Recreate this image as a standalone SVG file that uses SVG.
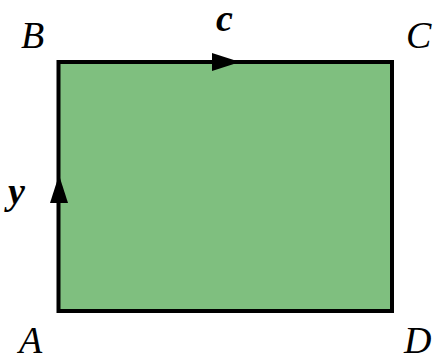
<svg xmlns="http://www.w3.org/2000/svg" xmlns:xlink="http://www.w3.org/1999/xlink" width="436" height="359" viewBox="0 0 436 359">
<style>
.lbl{font-family:"Liberation Serif","Times New Roman",serif;font-style:italic;font-size:38px;fill:#000}
.bold{font-weight:bold}
.edge{fill:#7fbf7f;stroke:#000;stroke-width:4;stroke-linejoin:miter}
</style>
<defs>
<path id="head" d="M0,0 L-28,-9 L-28,9 Z" fill="#000"/>
</defs>
<rect width="436" height="359" fill="#fff"/>
<g id="region">
<rect class="edge" x="58.5" y="62" width="333.5" height="249"/>
</g>
<g id="connectors">
<use xlink:href="#head" transform="translate(240,62)"/>
<use xlink:href="#head" transform="translate(59,175) rotate(-90)"/>
</g>
<g id="labels">
<text class="lbl" x="21" y="48">B</text>
<text class="lbl" x="406" y="48">C</text>
<text class="lbl" x="19" y="353">A</text>
<text class="lbl" x="404" y="353">D</text>
<text class="lbl bold" x="216" y="31">c</text>
<text class="lbl bold" x="8" y="204">y</text>
</g>
</svg>
